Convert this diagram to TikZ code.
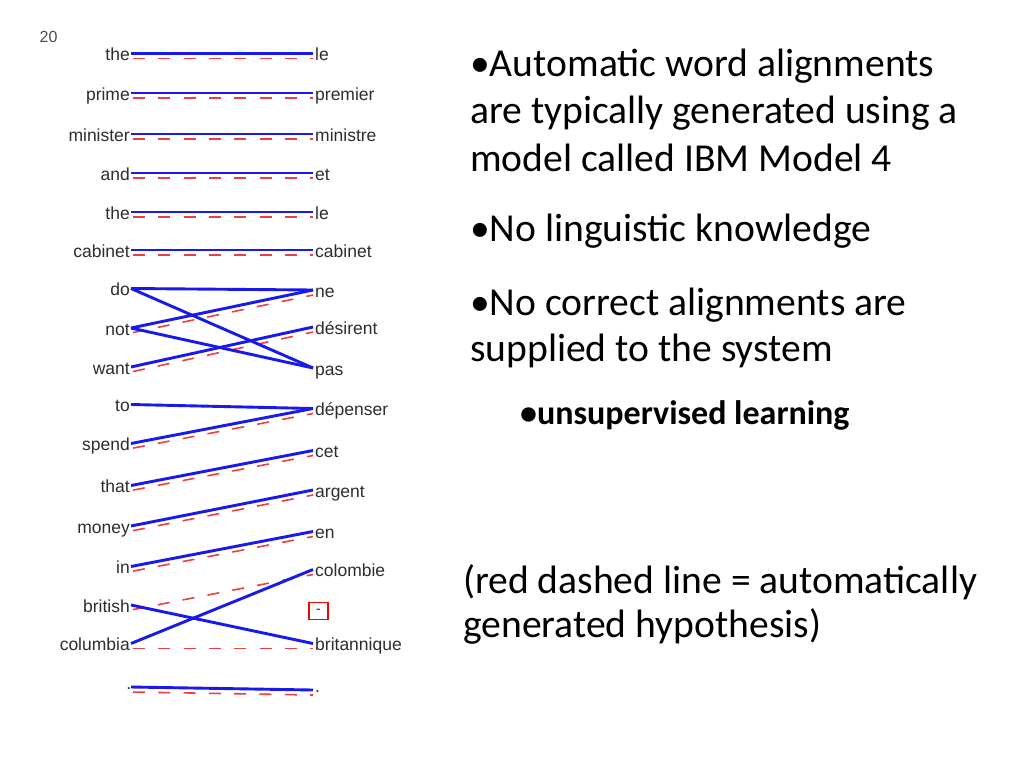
\documentclass[tikz,border=0pt]{standalone}
\usepackage{fontspec}
\setmainfont{Liberation Sans}
\newfontfamily\calib{Carlito}
\usetikzlibrary{calc}
\definecolor{alblue}{RGB}{25,25,235}
\definecolor{alred}{RGB}{236,64,64}
\definecolor{wordgray}{RGB}{45,45,45}
\tikzset{
  lw/.style={anchor=base east,inner sep=0pt,text=wordgray,font=\fontsize{17.5}{20}\selectfont},
  rw/.style={anchor=base west,inner sep=0pt,text=wordgray,font=\fontsize{17.5}{20}\selectfont},
  gold/.style={draw=alblue,line width=2.9pt},
  hyp/.style={draw=alred,line width=1.6pt,dash pattern=on 12pt off 13.3pt,dash phase=23.3pt},
  bigtext/.style={anchor=base west,inner sep=0pt,text=black,font=\calib\fontsize{39.6}{46}\selectfont},
  subtext/.style={anchor=base west,inner sep=0pt,text=black,font=\calib\bfseries\fontsize{34}{38}\selectfont},
}
\newcommand{\goldline}[2]{\draw[gold] (#1) -- (#2);}
\newcommand{\hypline}[2]{\draw[hyp] ([shift={(0,5)}]#1) -- ([shift={(0,5)}]#2);}
\begin{document}
\begin{tikzpicture}[x=1pt,y=-1pt]
\useasboundingbox[fill=white] (0,0) rectangle (1024,768);
\node[anchor=base west,inner sep=0pt,text=black!70,font=\fontsize{16}{18}\selectfont] (num) at (39.5,42) {20};
% left words
\foreach \n/\w/\y in {1/the/53.5,2/prime/93,3/minister/134,4/and/173,5/the/212,6/cabinet/250,
  7/do/288.5,8/not/328,9/want/367,10/to/404.5,11/spend/443.5,12/that/485.5,13/money/526,
  14/in/566.5,15/british/605,16/columbia/643.5}{
  \coordinate (L\n) at (131,\y);
  \node[lw] (l\n) at ([shift={(-1,7)}]L\n) {\w};
}
\coordinate (L17) at (131,687);
\node[lw] (l17) at ([shift={(0.5,2)}]L17) {.};
% right words
\foreach \n/\w/\y in {1/le/53.5,2/premier/93,3/ministre/134,4/et/173,5/le/212,6/cabinet/250,
  7/ne/290,8/désirent/327,9/pas/368,10/dépenser/408.5,11/cet/450.5,12/argent/490,13/en/531.5,
  14/colombie/569.5,16/britannique/643.5}{
  \coordinate (R\n) at (313,\y);
  \node[rw] (r\n) at ([shift={(2,7)}]R\n) {\w};
}
\coordinate (R17) at (313,690);
\node[rw] (r17) at ([shift={(2,2)}]R17) {.};
\node[draw=red,line width=1.8pt,minimum width=19pt,minimum height=17pt,inner sep=0pt,
  text=wordgray,font=\fontsize{14}{14}\selectfont] (r15) at (318.5,611) {-};
% hypothesis (red dashed)
\hypline{L1}{R1}
\hypline{L2}{R2}
\hypline{L3}{R3}
\hypline{L4}{R4}
\hypline{L5}{R5}
\hypline{L6}{R6}
\hypline{L8}{R7}
\hypline{L9}{R8}
\hypline{L11}{R10}
\hypline{L12}{R11}
\hypline{L13}{R12}
\hypline{L14}{R13}
\hypline{L15}{R14}
\hypline{L16}{R16}
\hypline{L17}{R17}
% gold (blue)
\goldline{L1}{R1}
\goldline{L2}{R2}
\goldline{L3}{R3}
\goldline{L4}{R4}
\goldline{L5}{R5}
\goldline{L6}{R6}
\goldline{L7}{R7}
\goldline{L7}{R9}
\goldline{L8}{R7}
\goldline{L8}{R9}
\goldline{L9}{R8}
\goldline{L10}{R10}
\goldline{L11}{R10}
\goldline{L12}{R11}
\goldline{L13}{R12}
\goldline{L14}{R13}
\goldline{L15}{R16}
\goldline{L16}{R14}
\goldline{L17}{R17}
% text on the right
\node[bigtext] (t1) at (470,77) {•Automatic word alignments};
\node[bigtext] (t2) at (470,123) {are typically generated using a};
\node[bigtext] (t3) at (470,171.5) {model called IBM Model 4};
\node[bigtext] (t4) at (470,241.5) {•No linguistic knowledge};
\node[bigtext] (t5) at (470,315) {•No correct alignments are};
\node[bigtext] (t6) at (470,361.5) {supplied to the system};
\node[subtext] (t7) at (520,424.5) {•unsupervised learning};
\node[bigtext] (t8) at (463,593.5) {(red dashed line = automatically};
\node[bigtext] (t9) at (463,637) {generated hypothesis)};
\end{tikzpicture}
\end{document}
